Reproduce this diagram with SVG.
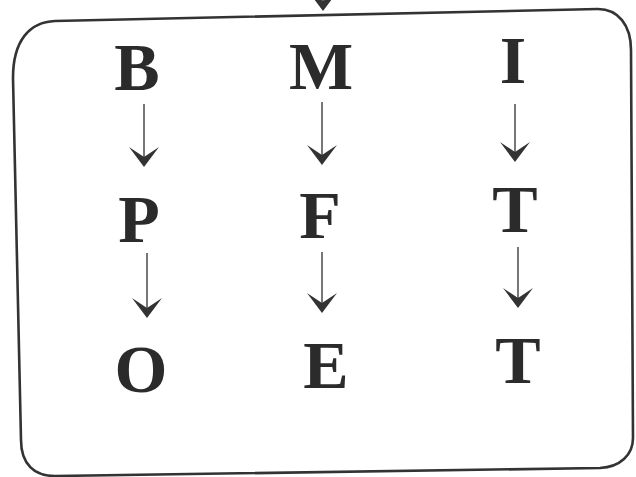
<svg xmlns="http://www.w3.org/2000/svg" width="636" height="477" viewBox="0 0 636 477">
<style>
.ln{stroke:#555;stroke-width:1.6;fill:none}
.hd{fill:#333}
</style>
<defs>
<path id="ah" d="M0,0 L-15,-20 L0,-10 L15,-20 Z"/>
</defs>
<rect width="636" height="477" fill="#fff"/>
<g id="box">
<path d="M13,78 C13,40 30,22 55,21 L598,9 C618,9 631,25 631,50 L633,438 C633,455 620,467 600,468 L55,476 C35,476 21,465 21,440 Z" fill="none" stroke="#333" stroke-width="2.6"/>
</g>
<g id="connectors">
<line class="ln" x1="323" y1="-10" x2="323" y2="3"/>
<use href="#ah" class="hd" x="323" y="11"/>
<line class="ln" x1="144" y1="104" x2="144" y2="160"/>
<use href="#ah" class="hd" x="144" y="167"/>
<line class="ln" x1="147" y1="253" x2="147" y2="311"/>
<use href="#ah" class="hd" x="147" y="318"/>
<line class="ln" x1="322" y1="102" x2="322" y2="158"/>
<use href="#ah" class="hd" x="322" y="165"/>
<line class="ln" x1="322" y1="252" x2="322" y2="306"/>
<use href="#ah" class="hd" x="322" y="313"/>
<line class="ln" x1="515" y1="104" x2="515" y2="155"/>
<use href="#ah" class="hd" x="515" y="162"/>
<line class="ln" x1="518" y1="247" x2="518" y2="301"/>
<use href="#ah" class="hd" x="518" y="308"/>
</g>
<g font-family="Liberation Serif" font-weight="bold" font-size="68" fill="#2b2b2b" text-anchor="middle">
<g id="node-B"><text x="137" y="90">B</text></g>
<g id="node-P"><text x="139" y="242">P</text></g>
<g id="node-O"><text x="141" y="392">O</text></g>
<g id="node-M"><text x="321" y="89">M</text></g>
<g id="node-F"><text x="320" y="238">F</text></g>
<g id="node-E"><text x="326" y="388">E</text></g>
<g id="node-I"><text x="513" y="83">I</text></g>
<g id="node-T1"><text x="515" y="232">T</text></g>
<g id="node-T2"><text x="518" y="383">T</text></g>
</g>
</svg>
